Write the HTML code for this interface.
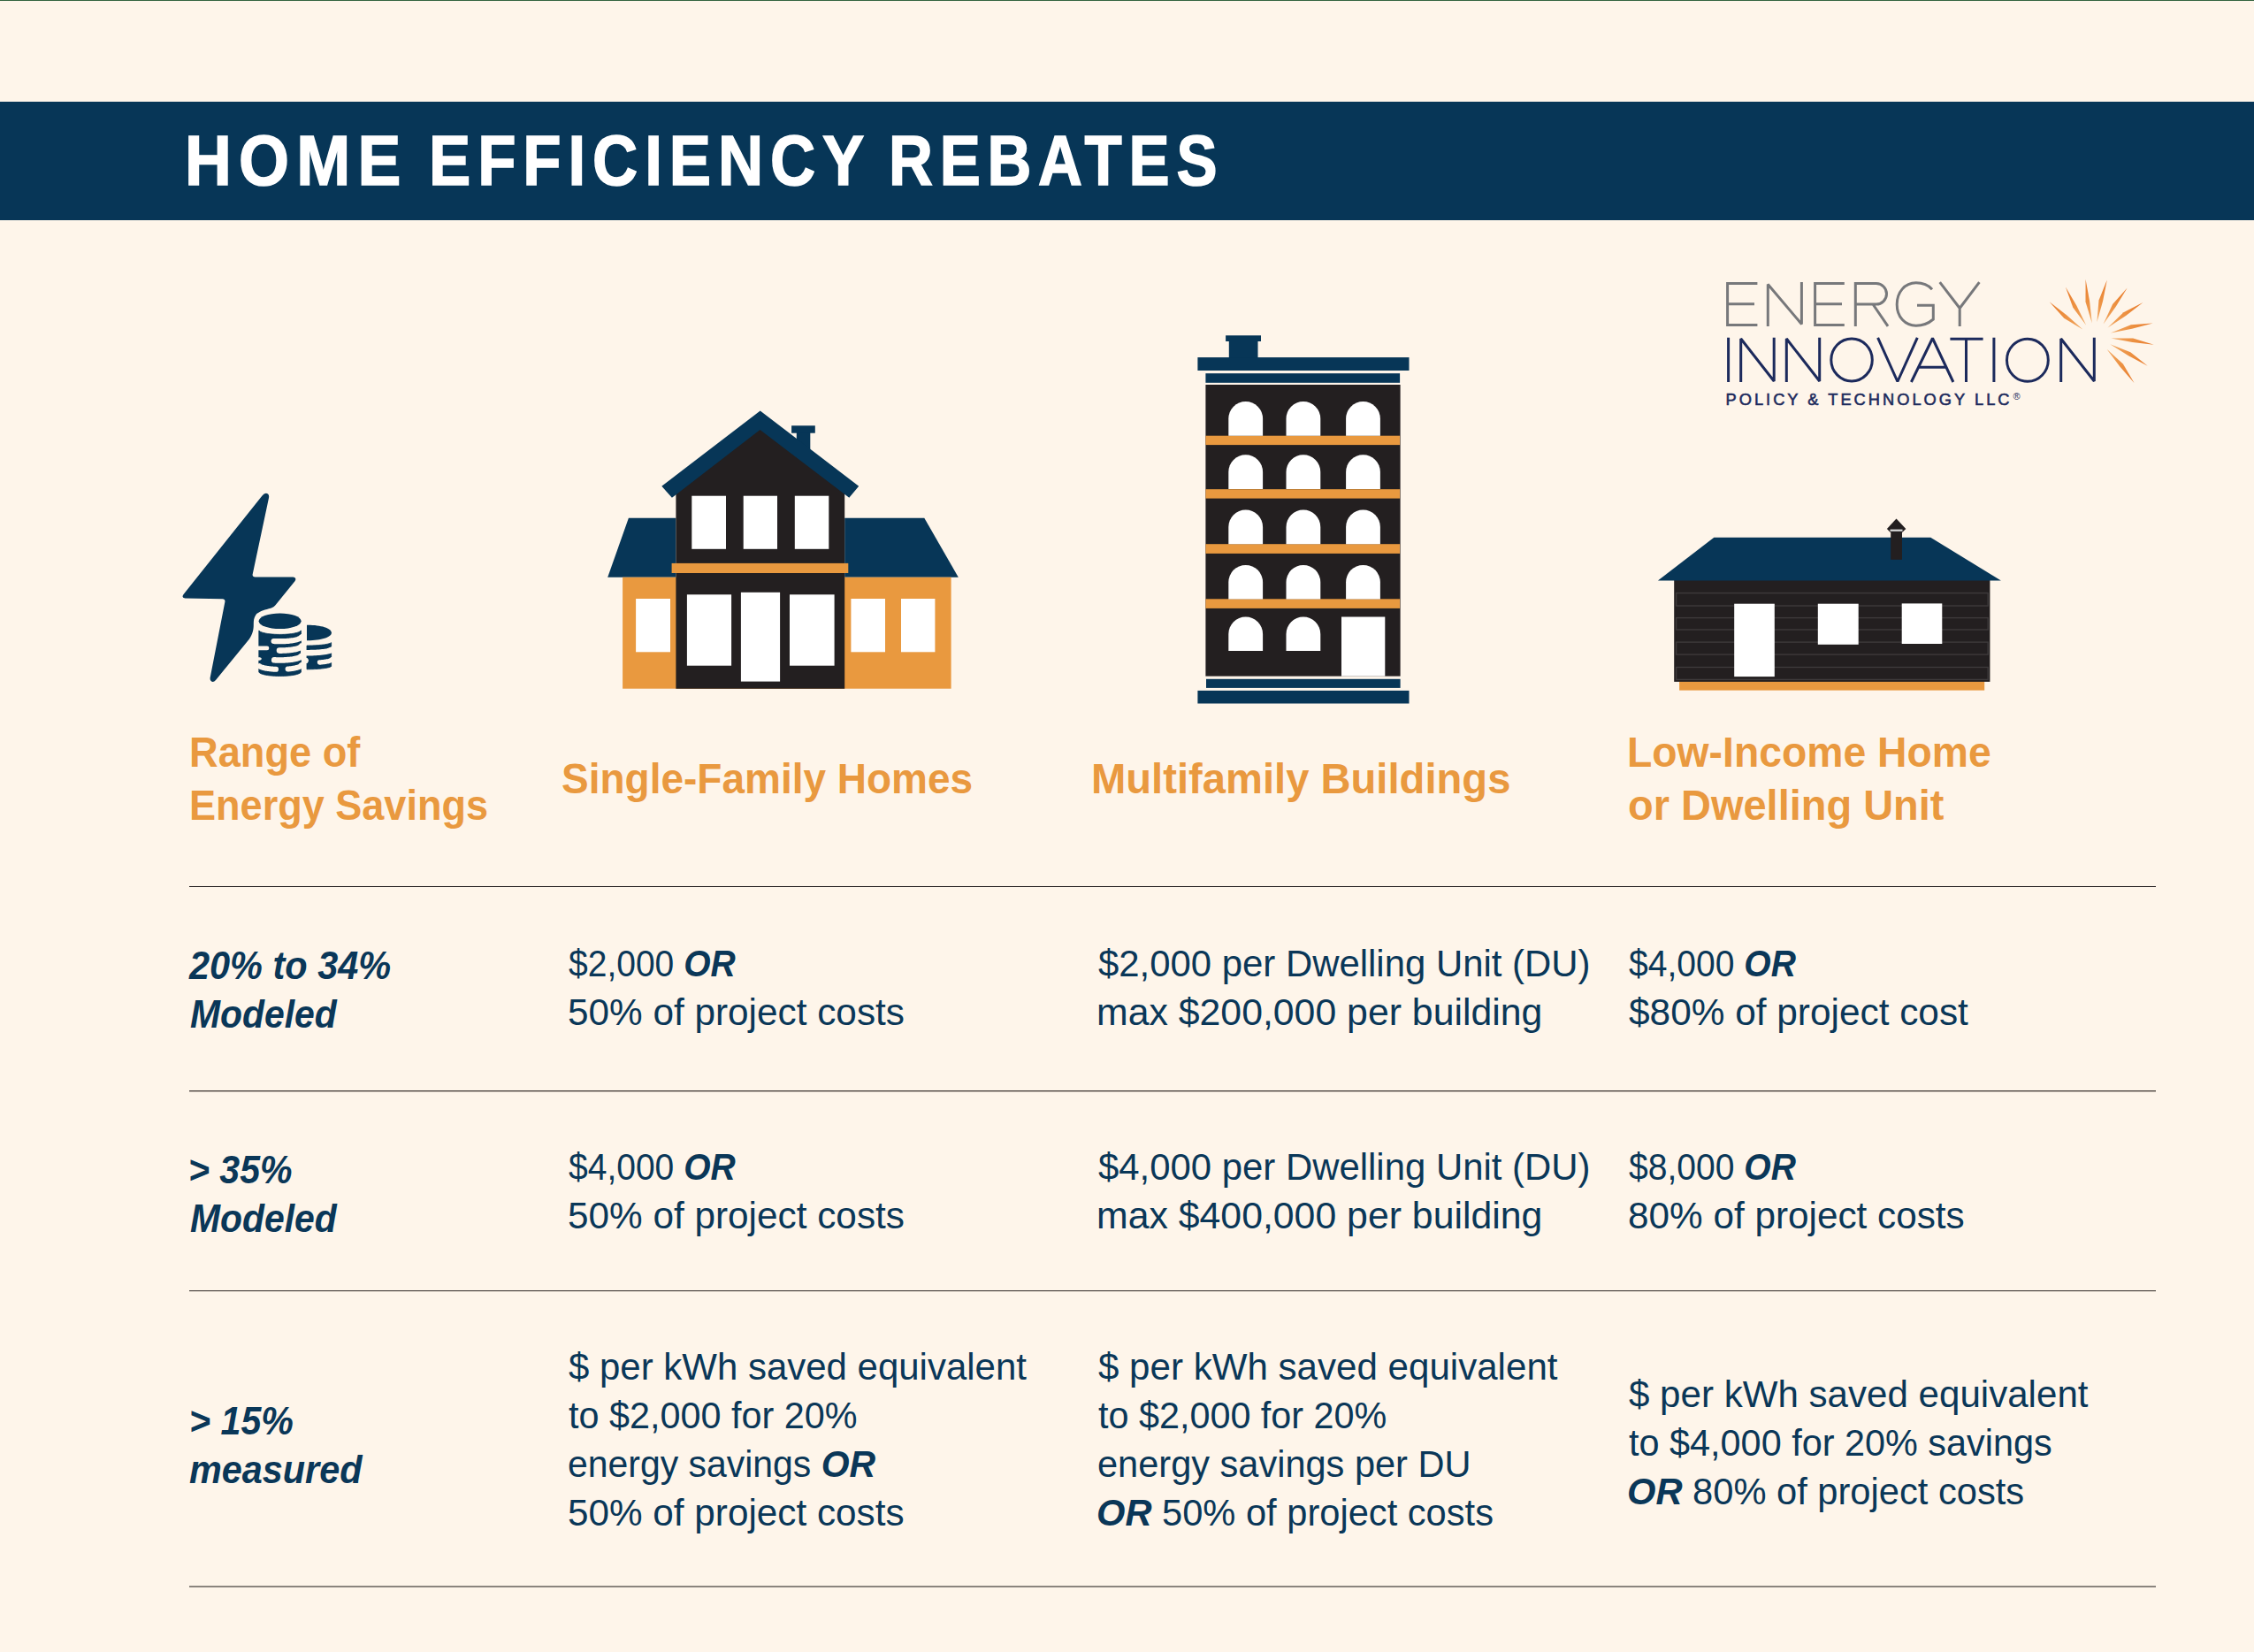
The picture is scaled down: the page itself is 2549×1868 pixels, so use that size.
<!DOCTYPE html>
<html><head><meta charset="utf-8"><style>
html,body{margin:0;padding:0;}
body{width:2549px;height:1868px;overflow:hidden;background:#fef5ea;position:relative;font-family:"Liberation Sans",sans-serif;}
.t{position:absolute;white-space:pre;line-height:1;transform-origin:0 0;}
.hl{position:absolute;left:214px;width:2224px;height:1px;background:#231f20;}
</style></head><body>
<div class="bn" style="position:absolute;left:0;top:0;width:2549px;height:1px;background:#33633f"></div>
<div class="bn" style="position:absolute;left:0;top:115px;width:2549px;height:134px;background:#073657"></div>
<div class="hl" style="top:1002px"></div>
<div class="hl" style="top:1233px;background:#3f3935"></div>
<div class="hl" style="top:1234px;background:#c2b9af"></div>
<div class="hl" style="top:1459px;background:#4a4440"></div>
<div class="hl" style="top:1460px;background:#e0d7cc"></div>
<div class="hl" style="top:1793px;height:2px;background:#8a847e"></div>
<svg style="position:absolute;left:0;top:0" width="2549" height="1868" viewBox="0 0 2549 1868"><path d="M296.3,560.8 Q299.8,556.3 303,558.6 Q304.6,560.2 304,563 L285.6,649.8 Q285.4,652.6 288.6,652.6 L331.6,652.6 Q336,653.2 333.4,657.2 L311.5,684.2 C309,687 307,687.6 304,688.3 C298,690 292,692 289.5,695 C287,698.5 286.8,702 286.8,706 C286.8,712 286,716.5 281.6,723 L244,769 Q241,772.5 238.4,769.8 Q237.2,768.2 237.8,765.6 L254.4,680.5 Q254.8,677.2 251.6,677.2 L209.2,676.4 Q205,675.8 207.4,672.2 Z" fill="#073657"/>
<polygon points="292.80,713.04 294.39,714.29 295.97,714.96 297.56,715.44 299.15,715.83 300.73,716.15 302.32,716.42 303.91,716.64 305.49,716.83 307.08,716.99 308.67,717.12 310.25,717.22 311.84,717.30 313.43,717.36 315.01,717.39 316.60,717.40 318.19,717.39 319.77,717.36 321.36,717.30 322.95,717.22 324.53,717.12 326.12,716.99 327.71,716.83 329.29,716.64 330.88,716.42 332.47,716.15 334.05,715.83 335.64,715.44 337.23,714.96 338.81,714.29 340.40,713.04 340.40,760.14 338.81,761.39 337.23,762.06 335.64,762.54 334.05,762.93 332.47,763.25 330.88,763.52 329.29,763.74 327.71,763.93 326.12,764.09 324.53,764.22 322.95,764.32 321.36,764.40 319.77,764.46 318.19,764.49 316.60,764.50 315.01,764.49 313.43,764.46 311.84,764.40 310.25,764.32 308.67,764.22 307.08,764.09 305.49,763.93 303.91,763.74 302.32,763.52 300.73,763.25 299.15,762.93 297.56,762.54 295.97,762.06 294.39,761.39 292.80,760.14" fill="#073657" stroke="#073657" stroke-width="0.8" stroke-linejoin="round"/>
<ellipse cx="316.6" cy="702.3" rx="24" ry="8.8" fill="#073657"/>
<polyline points="309.60,724.98 310.78,725.05 311.96,725.11 313.14,725.15 314.32,725.18 315.50,725.19 316.68,725.20 317.86,725.19 319.04,725.17 320.22,725.14 321.40,725.10 322.58,725.04 323.76,724.97 324.94,724.89 326.12,724.79 327.30,724.68 328.48,724.54 329.66,724.39 330.84,724.22 332.02,724.03 333.20,723.81 334.38,723.56 335.56,723.27 336.74,722.92 337.92,722.50 339.10,721.94 340.28,721.01 341.46,720.20 342.64,720.20 343.82,720.20 345.00,720.20" fill="none" stroke="#fef5ea" stroke-width="6.2" stroke-linecap="round"/>
<polyline points="316.00,735.60 316.97,735.60 317.93,735.59 318.90,735.58 319.87,735.55 320.83,735.52 321.80,735.48 322.77,735.43 323.73,735.37 324.70,735.31 325.67,735.23 326.63,735.14 327.60,735.04 328.57,734.93 329.53,734.81 330.50,734.68 331.47,734.53 332.43,734.36 333.40,734.17 334.37,733.96 335.33,733.73 336.30,733.46 337.27,733.14 338.23,732.77 339.20,732.28 340.17,731.55 341.13,730.60 342.10,730.60 343.07,730.60 344.03,730.60 345.00,730.60" fill="none" stroke="#fef5ea" stroke-width="6.6" stroke-linecap="round"/>
<polyline points="310.20,746.32 311.36,746.38 312.52,746.43 313.68,746.46 314.84,746.49 316.00,746.50 317.16,746.50 318.32,746.49 319.48,746.46 320.64,746.43 321.80,746.38 322.96,746.32 324.12,746.25 325.28,746.16 326.44,746.06 327.60,745.94 328.76,745.81 329.92,745.66 331.08,745.49 332.24,745.29 333.40,745.07 334.56,744.82 335.72,744.52 336.88,744.17 338.04,743.75 339.20,743.18 340.36,742.21 341.52,741.50 342.68,741.50 343.84,741.50 345.00,741.50" fill="none" stroke="#fef5ea" stroke-width="6.6" stroke-linecap="round"/>
<polyline points="293.50,753.26 294.12,753.65 294.73,753.96 295.35,754.22 295.97,754.45 296.58,754.66 297.20,754.84 297.82,755.01 298.43,755.17 299.05,755.31 299.67,755.44 300.28,755.57 300.90,755.68 301.52,755.79 302.13,755.89 302.75,755.98 303.37,756.07 303.98,756.15 304.60,756.23 305.22,756.30 305.83,756.37 306.45,756.43 307.07,756.49 307.68,756.54 308.30,756.59 308.92,756.64 309.53,756.68 310.15,756.72 310.77,756.75 311.38,756.78 312.00,756.81" fill="none" stroke="#fef5ea" stroke-width="6.0" stroke-linecap="round"/>
<polyline points="325.60,756.54 326.25,756.48 326.89,756.42 327.54,756.35 328.19,756.28 328.83,756.20 329.48,756.12 330.13,756.03 330.77,755.93 331.42,755.83 332.07,755.72 332.71,755.61 333.36,755.48 334.01,755.34 334.65,755.19 335.30,755.03 335.95,754.86 336.59,754.67 337.24,754.45 337.89,754.21 338.53,753.93 339.18,753.59 339.83,753.16 340.47,752.41 341.12,751.90 341.77,751.90 342.41,751.90 343.06,751.90 343.71,751.90 344.35,751.90 345.00,751.90" fill="none" stroke="#fef5ea" stroke-width="6.0" stroke-linecap="round"/>
<path d="M290,730.6 L302,730.6 A2.3,2.3 0 0 1 302,735.2 L290,735.2 Z" fill="#fef5ea"/>
<path d="M290,743.3 L294,743.3 C296.5,744.3 296.5,745.7 294,746.7 L290,746.7 Z" fill="#fef5ea"/>
<path d="M347,706.7 C362,706.5 374.9,710 374.9,715.6 C374.9,721 362,724.5 347,724.3 Z" fill="#073657"/>
<polygon points="347.00,730.00 348.38,730.00 349.76,729.98 351.14,729.96 352.52,729.92 353.90,729.88 355.28,729.82 356.66,729.75 358.04,729.68 359.42,729.58 360.80,729.48 362.18,729.36 363.56,729.23 364.94,729.07 366.32,728.90 367.70,728.69 369.08,728.46 370.46,728.18 371.84,727.85 373.22,727.40 374.60,726.67 374.60,753.47 373.22,754.20 371.84,754.65 370.46,754.98 369.08,755.26 367.70,755.49 366.32,755.70 364.94,755.87 363.56,756.03 362.18,756.16 360.80,756.28 359.42,756.38 358.04,756.48 356.66,756.55 355.28,756.62 353.90,756.68 352.52,756.72 351.14,756.76 349.76,756.78 348.38,756.80 347.00,756.80" fill="#073657" stroke="#073657" stroke-width="0.8" stroke-linejoin="round"/>
<polyline points="340.00,738.07 341.90,738.13 343.80,738.17 345.70,738.20 347.60,738.20 349.50,738.18 351.40,738.15 353.30,738.10 355.20,738.02 357.10,737.93 359.00,737.81 360.90,737.67 362.80,737.50 364.70,737.30 366.60,737.06 368.50,736.76 370.40,736.40 372.30,735.91 374.20,735.15 376.10,734.20 378.00,734.20" fill="none" stroke="#fef5ea" stroke-width="6.6"/>
<polyline points="361.50,749.02 362.32,748.95 363.15,748.87 363.98,748.78 364.80,748.69 365.62,748.59 366.45,748.48 367.27,748.36 368.10,748.23 368.93,748.09 369.75,747.93 370.57,747.76 371.40,747.56 372.23,747.34 373.05,747.07 373.88,746.72 374.70,746.18 375.52,745.60 376.35,745.60 377.18,745.60 378.00,745.60" fill="none" stroke="#fef5ea" stroke-width="5.4" stroke-linecap="round"/>
<path d="M345,744 L347.5,744 C349.5,746 349.5,747.5 347.5,750 L345,750 Z" fill="#fef5ea"/>
<polygon points="710.9,585.8 764.4,585.8 764.4,652.7 687.2,652.7" fill="#073657" />
<polygon points="955.2,585.8 1045.3,585.8 1083.8,652.7 955.2,652.7" fill="#073657" />
<rect x="704.1" y="652.7" width="371.5" height="126.0" fill="#e9993f"/>
<polygon points="764.4,552.0 859.5,478.0 955.2,552.0 955.2,778.7 764.4,778.7" fill="#231f20" />
<rect x="900.8" y="487.0" width="15.5" height="25.0" fill="#073657"/>
<rect x="895.1" y="481.3" width="26.7" height="8.4" fill="#073657"/>
<polygon points="859.7,464.4 971.2,549.8 960.3,562.8 859.5,486.0 759.9,562.8 748.3,549.8" fill="#073657" />
<rect x="759.6" y="636.9" width="199.7" height="11.1" fill="#e9993f"/>
<rect x="782.3" y="560.7" width="38.7" height="60.1" fill="#ffffff"/>
<rect x="840.7" y="560.7" width="38.3" height="60.1" fill="#ffffff"/>
<rect x="898.8" y="560.7" width="38.5" height="60.1" fill="#ffffff"/>
<rect x="776.9" y="672.3" width="50.2" height="80.4" fill="#ffffff"/>
<rect x="837.9" y="669.8" width="44.2" height="100.8" fill="#ffffff"/>
<rect x="893.0" y="672.3" width="50.6" height="80.4" fill="#ffffff"/>
<rect x="719.1" y="677.0" width="38.9" height="60.3" fill="#ffffff"/>
<rect x="962.4" y="677.0" width="38.6" height="60.3" fill="#ffffff"/>
<rect x="1019.0" y="677.0" width="38.4" height="60.3" fill="#ffffff"/>
<rect x="1386.1" y="379.3" width="39.9" height="6.7" fill="#073657"/>
<rect x="1389.8" y="385.0" width="32.7" height="20.0" fill="#073657"/>
<rect x="1354.4" y="404.1" width="239.1" height="14.9" fill="#073657"/>
<rect x="1363.4" y="422.2" width="219.7" height="10.6" fill="#073657"/>
<rect x="1363.4" y="435.0" width="220.2" height="329.6" fill="#231f20"/>
<rect x="1363.4" y="492.7" width="219.7" height="10.4" fill="#e9993f"/>
<rect x="1363.4" y="553.2" width="219.7" height="10.4" fill="#e9993f"/>
<rect x="1363.4" y="615.2" width="219.7" height="10.7" fill="#e9993f"/>
<rect x="1363.4" y="677.3" width="219.7" height="10.6" fill="#e9993f"/>
<path d="M1389.3,492.7 L1389.3,473.5 A19.40,19.40 0 0 1 1428.1,473.5 L1428.1,492.7 Z" fill="#ffffff"/>
<path d="M1454.5,492.7 L1454.5,473.5 A19.40,19.40 0 0 1 1493.3,473.5 L1493.3,492.7 Z" fill="#ffffff"/>
<path d="M1522.1,492.7 L1522.1,473.5 A19.40,19.40 0 0 1 1560.9,473.5 L1560.9,492.7 Z" fill="#ffffff"/>
<path d="M1389.3,552.9 L1389.3,533.7 A19.40,19.40 0 0 1 1428.1,533.7 L1428.1,552.9 Z" fill="#ffffff"/>
<path d="M1454.5,552.9 L1454.5,533.7 A19.40,19.40 0 0 1 1493.3,533.7 L1493.3,552.9 Z" fill="#ffffff"/>
<path d="M1522.1,552.9 L1522.1,533.7 A19.40,19.40 0 0 1 1560.9,533.7 L1560.9,552.9 Z" fill="#ffffff"/>
<path d="M1389.3,615.2 L1389.3,596.0 A19.40,19.40 0 0 1 1428.1,596.0 L1428.1,615.2 Z" fill="#ffffff"/>
<path d="M1454.5,615.2 L1454.5,596.0 A19.40,19.40 0 0 1 1493.3,596.0 L1493.3,615.2 Z" fill="#ffffff"/>
<path d="M1522.1,615.2 L1522.1,596.0 A19.40,19.40 0 0 1 1560.9,596.0 L1560.9,615.2 Z" fill="#ffffff"/>
<path d="M1389.3,677.5 L1389.3,658.3 A19.40,19.40 0 0 1 1428.1,658.3 L1428.1,677.5 Z" fill="#ffffff"/>
<path d="M1454.5,677.5 L1454.5,658.3 A19.40,19.40 0 0 1 1493.3,658.3 L1493.3,677.5 Z" fill="#ffffff"/>
<path d="M1522.1,677.5 L1522.1,658.3 A19.40,19.40 0 0 1 1560.9,658.3 L1560.9,677.5 Z" fill="#ffffff"/>
<path d="M1389.3,736.1 L1389.3,716.9 A19.40,19.40 0 0 1 1428.1,716.9 L1428.1,736.1 Z" fill="#ffffff"/>
<path d="M1454.5,736.1 L1454.5,716.9 A19.40,19.40 0 0 1 1493.3,716.9 L1493.3,736.1 Z" fill="#ffffff"/>
<rect x="1517.0" y="697.5" width="49.3" height="67.1" fill="#ffffff"/>
<rect x="1364.0" y="767.8" width="219.6" height="10.1" fill="#073657"/>
<rect x="1354.4" y="780.9" width="239.1" height="14.6" fill="#073657"/>
<rect x="1899.1" y="766.0" width="345.1" height="14.6" fill="#e9993f"/>
<rect x="1893.2" y="654.8" width="357.2" height="116.1" fill="#231f20"/>
<rect x="1895.6" y="670.6" width="352.6" height="14.4" fill="none" stroke="#3e3a3b" stroke-width="1.4"/>
<rect x="1895.6" y="698.6" width="352.6" height="13.4" fill="none" stroke="#3e3a3b" stroke-width="1.4"/>
<rect x="1895.6" y="726.1" width="352.6" height="14.0" fill="none" stroke="#3e3a3b" stroke-width="1.4"/>
<rect x="1895.6" y="754.5" width="352.6" height="13.9" fill="none" stroke="#3e3a3b" stroke-width="1.4"/>
<polygon points="1938.3,607.8 2183.3,607.8 2262.9,656.6 1874.9,656.6" fill="#073657" />
<rect x="2138.2" y="600.0" width="12.8" height="32.8" fill="#231f20"/>
<polygon points="2144.5,586.4 2155.3,597.9 2151.5,601.7 2137.5,601.7 2133.9,597.9" fill="#231f20" />
<rect x="2137.5" y="598.6" width="14.0" height="2.2" fill="#d9d9d9"/>
<rect x="1961.2" y="682.7" width="45.6" height="82.4" fill="#ffffff"/>
<rect x="2055.8" y="682.7" width="45.9" height="46.1" fill="#ffffff"/>
<rect x="2150.7" y="682.4" width="45.6" height="45.6" fill="#ffffff"/>
<path d="M1987.4,320.6 H1953.6 V367.4 H1987.4 M1953.6,343.8 H1984 M1999.3,368.9 V321.5 L2037.4,366.5 V319.1 M2085.8,320.6 H2052.6 V367.4 H2085.8 M2052.6,343.8 H2083 M2098.3,368.9 V320.6 H2121.8 A11.7,11.7 0 0 1 2121.8,344 H2098.3 M2118,344 L2135,368.9 M2185,327.2 C2180,321.6 2173.5,319.8 2166.8,319.8 C2154,319.8 2145.2,330.5 2145.2,344.2 C2145.2,358.5 2154.5,368.2 2166.8,368.2 C2174.5,368.2 2181,365.6 2186.3,361 V345.2 H2168 M2193.7,319.1 L2216.2,348.5 L2238.4,319.1 M2216.2,348.5 V368.9" fill="none" stroke="#77787b" stroke-width="3" stroke-miterlimit="1.5"/>
<path d="M1954.6,381.8 V432 M1968.7,432 V383 L2006.2,431 V381.8 M2020.3,432 V383 L2057.7,431 V381.8 M2123.6,381.8 L2145.9,431.5 L2168.3,381.8 M2161.4,432 L2185.5,382.5 L2208.9,432 M2168.5,415.2 H2202 M2205.4,383.3 H2242.6 M2223.5,383.3 V432 M2254.9,381.8 V432 M2330.7,432 V383 L2368.3,431 V381.8" fill="none" stroke="#1c2a5c" stroke-width="3" stroke-miterlimit="1.5"/>
<ellipse cx="2094.05" cy="406.95" rx="23.25" ry="23.95" fill="none" stroke="#1c2a5c" stroke-width="3"/>
<ellipse cx="2292.9" cy="407.25" rx="23.4" ry="24.05" fill="none" stroke="#1c2a5c" stroke-width="3"/>
<linearGradient id="rg2355372" gradientUnits="userSpaceOnUse" x1="2355.3" y1="372.6" x2="2317.6" y2="341.3"><stop offset="0" stop-color="#f1a862"/><stop offset="0.55" stop-color="#ec8f3f"/><stop offset="1" stop-color="#e8792a"/></linearGradient>
<polygon points="2355.3,372.6 2334.1,359.8 2317.6,341.3 2337.0,356.3" fill="url(#rg2355372)"/>
<linearGradient id="rg2359367" gradientUnits="userSpaceOnUse" x1="2359.2" y1="367.7" x2="2335.9" y2="324.4"><stop offset="0" stop-color="#f1a862"/><stop offset="0.55" stop-color="#ec8f3f"/><stop offset="1" stop-color="#e8792a"/></linearGradient>
<polygon points="2359.2,367.7 2344.3,347.8 2335.9,324.4 2348.3,345.6" fill="url(#rg2359367)"/>
<linearGradient id="rg2365365" gradientUnits="userSpaceOnUse" x1="2365.8" y1="365.4" x2="2358.6" y2="316.1"><stop offset="0" stop-color="#f1a862"/><stop offset="0.55" stop-color="#ec8f3f"/><stop offset="1" stop-color="#e8792a"/></linearGradient>
<polygon points="2365.8,365.4 2358.5,341.3 2358.6,316.1 2363.1,340.6" fill="url(#rg2365365)"/>
<linearGradient id="rg2371364" gradientUnits="userSpaceOnUse" x1="2371.4" y1="364.3" x2="2382.8" y2="316.6"><stop offset="0" stop-color="#f1a862"/><stop offset="0.55" stop-color="#ec8f3f"/><stop offset="1" stop-color="#e8792a"/></linearGradient>
<polygon points="2371.4,364.3 2373.5,339.6 2382.8,316.6 2378.0,340.7" fill="url(#rg2371364)"/>
<linearGradient id="rg2378366" gradientUnits="userSpaceOnUse" x1="2378.6" y1="366.5" x2="2405.7" y2="325.5"><stop offset="0" stop-color="#f1a862"/><stop offset="0.55" stop-color="#ec8f3f"/><stop offset="1" stop-color="#e8792a"/></linearGradient>
<polygon points="2378.6,366.5 2389.1,344.0 2405.7,325.5 2392.9,346.5" fill="url(#rg2378366)"/>
<linearGradient id="rg2383370" gradientUnits="userSpaceOnUse" x1="2383.6" y1="370.4" x2="2423.5" y2="342.1"><stop offset="0" stop-color="#f1a862"/><stop offset="0.55" stop-color="#ec8f3f"/><stop offset="1" stop-color="#e8792a"/></linearGradient>
<polygon points="2383.6,370.4 2401.4,353.2 2423.5,342.1 2404.1,357.0" fill="url(#rg2383370)"/>
<linearGradient id="rg2386376" gradientUnits="userSpaceOnUse" x1="2386.9" y1="376.5" x2="2434.6" y2="365.4"><stop offset="0" stop-color="#f1a862"/><stop offset="0.55" stop-color="#ec8f3f"/><stop offset="1" stop-color="#e8792a"/></linearGradient>
<polygon points="2386.9,376.5 2409.9,367.3 2434.6,365.4 2411.0,371.8" fill="url(#rg2386376)"/>
<linearGradient id="rg2387382" gradientUnits="userSpaceOnUse" x1="2387.4" y1="382.6" x2="2435.7" y2="389.8"><stop offset="0" stop-color="#f1a862"/><stop offset="0.55" stop-color="#ec8f3f"/><stop offset="1" stop-color="#e8792a"/></linearGradient>
<polygon points="2387.4,382.6 2412.1,382.5 2435.7,389.8 2411.4,387.1" fill="url(#rg2387382)"/>
<linearGradient id="rg2386389" gradientUnits="userSpaceOnUse" x1="2386.3" y1="389.3" x2="2428.7" y2="413.7"><stop offset="0" stop-color="#f1a862"/><stop offset="0.55" stop-color="#ec8f3f"/><stop offset="1" stop-color="#e8792a"/></linearGradient>
<polygon points="2386.3,389.3 2409.3,398.3 2428.7,413.7 2407.1,402.3" fill="url(#rg2386389)"/>
<linearGradient id="rg2382394" gradientUnits="userSpaceOnUse" x1="2382.5" y1="394.8" x2="2413.5" y2="433.1"><stop offset="0" stop-color="#f1a862"/><stop offset="0.55" stop-color="#ec8f3f"/><stop offset="1" stop-color="#e8792a"/></linearGradient>
<polygon points="2382.5,394.8 2400.9,411.6 2413.5,433.1 2397.3,414.5" fill="url(#rg2382394)"/></svg>
<div class="t" style="left:209.34px;top:142.48px;font-size:80px;font-weight:bold;font-style:normal;color:#ffffff;transform:scaleX(0.9149);letter-spacing:9px;-webkit-text-stroke:1.6px #fff;">HOME</div>
<div class="t" style="left:485.46px;top:142.48px;font-size:80px;font-weight:bold;font-style:normal;color:#ffffff;transform:scaleX(0.8843);letter-spacing:9px;-webkit-text-stroke:1.6px #fff;">EFFICIENCY</div>
<div class="t" style="left:1004.55px;top:142.48px;font-size:80px;font-weight:bold;font-style:normal;color:#ffffff;transform:scaleX(0.8632);letter-spacing:9px;-webkit-text-stroke:1.6px #fff;">REBATES</div>
<div class="t" style="left:213.69px;top:827.47px;font-size:48px;font-weight:bold;font-style:normal;color:#e9993f;transform:scaleX(0.9416);">Range of</div>
<div class="t" style="left:213.70px;top:887.27px;font-size:48px;font-weight:bold;font-style:normal;color:#e9993f;transform:scaleX(0.9386);">Energy Savings</div>
<div class="t" style="left:635.04px;top:856.97px;font-size:48px;font-weight:bold;font-style:normal;color:#e9993f;transform:scaleX(0.9582);">Single-Family Homes</div>
<div class="t" style="left:1234.04px;top:856.97px;font-size:48px;font-weight:bold;font-style:normal;color:#e9993f;transform:scaleX(0.9828);">Multifamily Buildings</div>
<div class="t" style="left:1840.09px;top:827.07px;font-size:48px;font-weight:bold;font-style:normal;color:#e9993f;transform:scaleX(0.9650);">Low-Income Home</div>
<div class="t" style="left:1841.03px;top:887.17px;font-size:48px;font-weight:bold;font-style:normal;color:#e9993f;transform:scaleX(0.9785);">or Dwelling Unit</div>
<div class="t" style="left:214.43px;top:1071.08px;font-size:43.5px;font-weight:bold;font-style:italic;color:#0a3758;transform:scaleX(0.9532);">20% to 34%</div>
<div class="t" style="left:215.00px;top:1125.88px;font-size:43.5px;font-weight:bold;font-style:italic;color:#0a3758;transform:scaleX(0.9390);">Modeled</div>
<div class="t" style="left:213.14px;top:1301.78px;font-size:43.5px;font-weight:bold;font-style:italic;color:#0a3758;transform:scaleX(0.9432);">&gt; 35%</div>
<div class="t" style="left:215.00px;top:1356.78px;font-size:43.5px;font-weight:bold;font-style:italic;color:#0a3758;transform:scaleX(0.9390);">Modeled</div>
<div class="t" style="left:214.11px;top:1586.08px;font-size:43.5px;font-weight:bold;font-style:italic;color:#0a3758;transform:scaleX(0.9464);">&gt; 15%</div>
<div class="t" style="left:214.04px;top:1640.88px;font-size:43.5px;font-weight:bold;font-style:italic;color:#0a3758;transform:scaleX(0.9513);">measured</div>
<div class="t" style="left:643.04px;top:1069.35px;font-size:42px;font-weight:normal;font-style:normal;color:#0a3758;transform:scaleX(0.9287);">$2,000 <b><i>OR</i></b></div>
<div class="t" style="left:642.01px;top:1124.05px;font-size:42px;font-weight:normal;font-style:normal;color:#0a3758;transform:scaleX(1.0073);">50% of project costs</div>
<div class="t" style="left:1242.00px;top:1069.35px;font-size:42px;font-weight:normal;font-style:normal;color:#0a3758;transform:scaleX(0.9974);">$2,000 per Dwelling Unit (DU)</div>
<div class="t" style="left:1239.96px;top:1124.05px;font-size:42px;font-weight:normal;font-style:normal;color:#0a3758;transform:scaleX(1.0189);">max $200,000 per building</div>
<div class="t" style="left:1842.00px;top:1069.35px;font-size:42px;font-weight:normal;font-style:normal;color:#0a3758;transform:scaleX(0.9300);">$4,000 <b><i>OR</i></b></div>
<div class="t" style="left:1842.00px;top:1124.05px;font-size:42px;font-weight:normal;font-style:normal;color:#0a3758;transform:scaleX(1.0088);">$80% of project cost</div>
<div class="t" style="left:643.04px;top:1299.35px;font-size:42px;font-weight:normal;font-style:normal;color:#0a3758;transform:scaleX(0.9287);">$4,000 <b><i>OR</i></b></div>
<div class="t" style="left:642.01px;top:1354.05px;font-size:42px;font-weight:normal;font-style:normal;color:#0a3758;transform:scaleX(1.0073);">50% of project costs</div>
<div class="t" style="left:1242.00px;top:1299.35px;font-size:42px;font-weight:normal;font-style:normal;color:#0a3758;transform:scaleX(0.9974);">$4,000 per Dwelling Unit (DU)</div>
<div class="t" style="left:1239.96px;top:1354.05px;font-size:42px;font-weight:normal;font-style:normal;color:#0a3758;transform:scaleX(1.0189);">max $400,000 per building</div>
<div class="t" style="left:1842.00px;top:1299.35px;font-size:42px;font-weight:normal;font-style:normal;color:#0a3758;transform:scaleX(0.9300);">$8,000 <b><i>OR</i></b></div>
<div class="t" style="left:1840.99px;top:1354.05px;font-size:42px;font-weight:normal;font-style:normal;color:#0a3758;transform:scaleX(1.0068);">80% of project costs</div>
<div class="t" style="left:643.02px;top:1525.45px;font-size:42px;font-weight:normal;font-style:normal;color:#0a3758;transform:scaleX(0.9993);">$ per kWh saved equivalent</div>
<div class="t" style="left:643.03px;top:1580.25px;font-size:42px;font-weight:normal;font-style:normal;color:#0a3758;transform:scaleX(0.9848);">to $2,000 for 20%</div>
<div class="t" style="left:642.05px;top:1635.25px;font-size:42px;font-weight:normal;font-style:normal;color:#0a3758;transform:scaleX(0.9745);">energy savings <b><i>OR</i></b></div>
<div class="t" style="left:642.01px;top:1690.05px;font-size:42px;font-weight:normal;font-style:normal;color:#0a3758;transform:scaleX(1.0063);">50% of project costs</div>
<div class="t" style="left:1242.00px;top:1525.45px;font-size:42px;font-weight:normal;font-style:normal;color:#0a3758;transform:scaleX(1.0023);">$ per kWh saved equivalent</div>
<div class="t" style="left:1242.00px;top:1580.25px;font-size:42px;font-weight:normal;font-style:normal;color:#0a3758;transform:scaleX(0.9841);">to $2,000 for 20%</div>
<div class="t" style="left:1241.01px;top:1635.25px;font-size:42px;font-weight:normal;font-style:normal;color:#0a3758;transform:scaleX(0.9889);">energy savings per DU</div>
<div class="t" style="left:1240.02px;top:1690.05px;font-size:42px;font-weight:normal;font-style:normal;color:#0a3758;transform:scaleX(0.9914);"><b><i>OR</i></b> 50% of project costs</div>
<div class="t" style="left:1842.00px;top:1556.35px;font-size:42px;font-weight:normal;font-style:normal;color:#0a3758;transform:scaleX(1.0023);">$ per kWh saved equivalent</div>
<div class="t" style="left:1842.00px;top:1611.25px;font-size:42px;font-weight:normal;font-style:normal;color:#0a3758;transform:scaleX(0.9857);">to $4,000 for 20% savings</div>
<div class="t" style="left:1840.02px;top:1665.85px;font-size:42px;font-weight:normal;font-style:normal;color:#0a3758;transform:scaleX(0.9918);"><b><i>OR</i></b> 80% of project costs</div>

<div class="lg" style="position:absolute;left:1951.5px;top:442.6px;font-size:18.3px;line-height:1;font-weight:normal;-webkit-text-stroke:0.55px #1c2a5c;color:#1c2a5c;letter-spacing:3.0px;white-space:pre;font-family:'Liberation Sans'">POLICY &amp; TECHNOLOGY LLC</div><div style="position:absolute;left:2276.5px;top:443px;font-size:11px;line-height:1;color:#1c2a5c;font-family:'Liberation Sans'">&#174;</div>
</body></html>
